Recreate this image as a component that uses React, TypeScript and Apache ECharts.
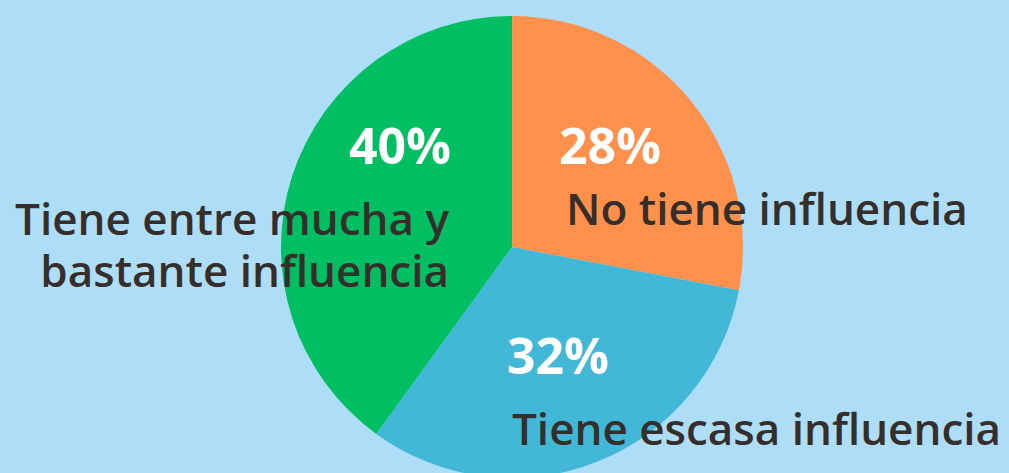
import React, { useEffect, useRef } from "react";
import * as echarts from "echarts";

const categories = [
  "No tiene influencia",
  "Tiene escasa influencia",
  "Tiene entre mucha y\nbastante influencia",
];
const values = [28, 32, 40];
const colors = ["#FF914D", "#42B8D8", "#00BF63"];

export default function App() {
  const ref = useRef<HTMLDivElement>(null);
  useEffect(() => {
    const chart = echarts.init(ref.current!, null, { renderer: "svg" });
    const pctPos = [
      { x: 610, y: 145 },
      { x: 558, y: 355 },
      { x: 400, y: 145 },
    ];
    const namePos = [
      { x: 566, y: 208, align: "left" },
      { x: 512, y: 428, align: "left" },
      { x: 449, y: 218, align: "right" },
    ];
    const lineGap = 52;
    const graphics: any[] = [];
    categories.forEach((c, i) => {
      c.split("\n").forEach((line, j) => {
        graphics.push({
          type: "text",
          x: namePos[i].x,
          y: namePos[i].y + j * lineGap,
          z: 100,
          style: {
            text: line,
            fill: "#352E2B",
            font: "600 44px 'Open Sans'",
            textAlign: namePos[i].align,
            textVerticalAlign: "middle",
          },
        });
      });
    });
    chart.setOption({
      animation: false,
      backgroundColor: "#AEDEF7",
      series: [
        {
          type: "pie",
          center: [512, 247],
          radius: 231,
          startAngle: 90,
          clockwise: true,
          silent: true,
          data: categories.map((c, i) => ({
            name: c.replace("\n", " "),
            value: values[i],
            itemStyle: { color: colors[i] },
          })),
          label: {
            show: true,
            position: "inside",
            formatter: "{c}%",
            color: "#ffffff",
            fontFamily: "Open Sans",
            fontWeight: "bold",
            fontSize: 50,
          },
          labelLine: { show: false },
          labelLayout: (p: any) => ({
            x: pctPos[p.dataIndex].x,
            y: pctPos[p.dataIndex].y,
            align: "center",
            verticalAlign: "middle",
          }),
        },
      ],
      graphic: graphics,
    });
    return () => chart.dispose();
  }, []);
  return (
    <div
      ref={ref}
      style={{ position: "fixed", left: 0, top: 0, width: 1009, height: 473 }}
    />
  );
}
